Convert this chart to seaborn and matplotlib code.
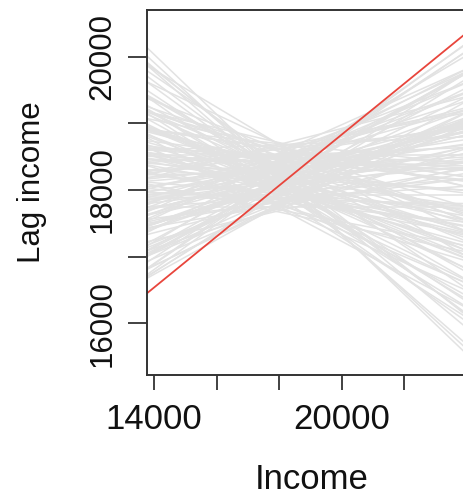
import matplotlib
matplotlib.use('Agg')
import matplotlib.pyplot as plt
import pandas as pd
import seaborn as sns

# slopes of the permuted regression lines and their level at income = pivot_income
perm_slope = [
    0.05, -0.12, 0.21, -0.03, 0.14, -0.27, 0.08, -0.18, 0.31, -0.06,
    -0.41, 0.11, 0.02, -0.15, 0.18, -0.09, 0.26, -0.22, 0.04, -0.01,
    0.12, -0.33, 0.07, -0.13, 0.23, -0.05, 0.16, -0.20, 0.00, 0.09,
    -0.26, 0.28, -0.08, 0.13, -0.16, 0.03, -0.37, 0.19, -0.11, 0.06,
    0.34, -0.02, -0.24, 0.10, -0.14, 0.22, -0.07, 0.01, -0.29, 0.15,
    -0.10, 0.25, -0.19, 0.05, -0.04, 0.17, -0.45, 0.08, -0.17, 0.12,
    -0.23, 0.03, 0.20, -0.12, -0.31, 0.11, -0.06, 0.29, -0.15, 0.02,
    0.14, -0.21, 0.07, -0.35, 0.18, -0.09, 0.24, -0.01, -0.13, 0.10,
    -0.28, 0.06, 0.32, -0.18, -0.03, 0.16, -0.25, 0.09, -0.08, 0.21,
    0.00, -0.39, 0.13, -0.11, 0.27, -0.20, 0.04, -0.05, 0.19, -0.16,
    0.08, -0.30, 0.15, -0.02, 0.23, -0.14, -0.43, 0.11, -0.07, 0.30,
    0.01, -0.22, 0.17, -0.10, 0.06, -0.32, 0.26, -0.04, 0.12, -0.19,
    -0.07, 0.15, -0.19, 0.03, 0.22, -0.12, 0.09, -0.26, 0.18, -0.02,
    0.11, -0.16, 0.27, -0.09, 0.05, -0.34, 0.13, -0.05, 0.20, -0.21,
    0.00, 0.16, -0.14, 0.07, -0.28, 0.24, -0.10, 0.12, -0.03, 0.33,
]
perm_level = [
    18145, 18355, 17930, 18470, 18070, 18245, 17780, 18595, 18255, 18305,
    18100, 18180, 18520, 18030, 18395, 17695, 18220, 18670, 18105, 17855,
    18330, 17970, 18545, 18155, 17805, 18445, 18080, 18270, 17745, 18630,
    17945, 18370, 17920, 18195, 18495, 17980, 18295, 17830, 18700, 18120,
    18200, 17880, 18230, 18055, 18570, 17770, 18170, 18345, 17955, 18455,
    17660, 18280, 18130, 18620, 17945, 18205, 18190, 17845, 18095, 18530,
    17995, 18320, 17795, 18380, 18155, 17995, 18480, 17960, 18255, 18680,
    18070, 17730, 18345, 18195, 18555, 17870, 18120, 18420, 17970, 18280,
    18655, 17820, 18200, 18030, 18505, 18145, 17705, 18355, 18080, 18580,
    17920, 18230, 18445, 18005, 18170, 17780, 18305, 18690, 17955, 18220,
    18395, 17855, 18105, 18530, 18045, 18330, 18150, 18180, 18605, 17995,
    18270, 17895, 18470, 18130, 18055, 18405, 17800, 18230, 18695, 18095,
    18610, 17740, 18350, 17880, 18480, 18020, 18660, 18300, 17950, 18420,
    17700, 18560, 18190, 17990, 18380, 18150, 18250, 17810, 18430, 18060,
    18520, 18100, 17760, 18280, 18010, 18400, 18640, 17850, 18170, 18250,
]
pivot_income = 18100

# observed regression line
obs_slope = 0.3825
obs_level = 18105

x_ticks = [14000, 16000, 18000, 20000, 22000]
x_labels = ['14000', '', '', '20000', '']
y_ticks = [16000, 17000, 18000, 19000, 20000]
y_labels = ['16000', '', '18000', '', '20000']
x_lim = (13776, 24323)
y_lim = (15225, 20700)

sns.set_style('ticks')
plt.rcParams['font.family'] = ['Liberation Sans', 'DejaVu Sans']

# lines are drawn across the whole x range of the plot
rows = []
for i, (s, c) in enumerate(zip(perm_slope, perm_level)):
    for x in x_lim:
        rows.append([i, x, c + s * (x - pivot_income)])
perm_df = pd.DataFrame(rows, columns=['perm', 'income', 'lag'])

obs_df = pd.DataFrame({'income': list(x_lim),
                       'lag': [obs_level + obs_slope * (x - pivot_income) for x in x_lim]})

fig = plt.figure(figsize=(4.64, 5.0), dpi=100)
ax = fig.add_axes([147 / 464, 125 / 500, 330 / 464, 365 / 500])

sns.lineplot(data=perm_df, x='income', y='lag', units='perm', estimator=None,
             color='#e2e2e2', lw=1.1, legend=False, ax=ax)
sns.lineplot(data=obs_df, x='income', y='lag', color='#e8453c', lw=1.3, ax=ax)

ax.set_xlim(x_lim)
ax.set_ylim(y_lim)
ax.set_xticks(x_ticks)
ax.set_xticklabels(x_labels, fontsize=25)
ax.set_yticks(y_ticks)
ax.set_yticklabels(y_labels, fontsize=22.5, rotation=90, va='center')

for side in ['left', 'right', 'top', 'bottom']:
    ax.spines[side].set_visible(True)
    ax.spines[side].set_color('#333333')
    ax.spines[side].set_linewidth(1.4)

ax.tick_params(axis='x', length=11, width=1.3, color='#333333', pad=9, labelcolor='#111111')
ax.tick_params(axis='y', length=13.5, width=1.3, color='#333333', pad=8, labelcolor='#111111')

ax.set_xlabel('Income', fontsize=25, color='#111111')
ax.set_ylabel('Lag income', fontsize=22.5, color='#111111')
ax.xaxis.set_label_coords(0.5, -0.24)
ax.yaxis.set_label_coords(-0.303, 0.529)

plt.savefig('out.png', dpi=100)
